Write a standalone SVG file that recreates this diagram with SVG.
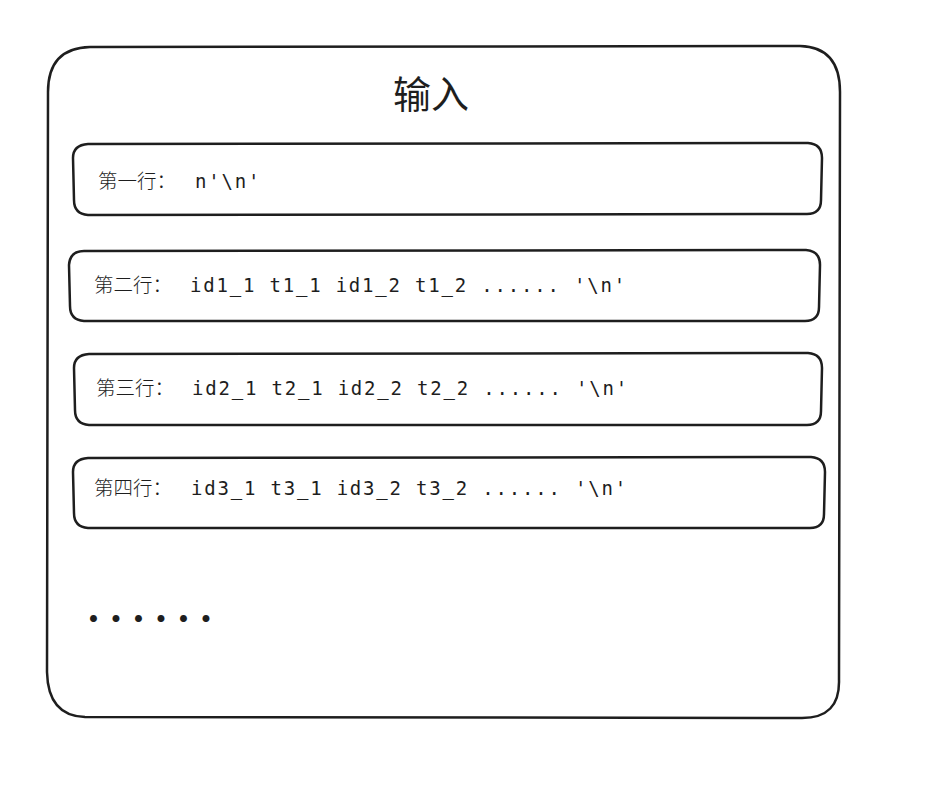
<svg xmlns="http://www.w3.org/2000/svg" width="943" height="789" viewBox="0 0 943 789">
<style>
.box{fill:none;stroke:#1e1e1e;stroke-width:2.5;stroke-linecap:round;stroke-linejoin:round}
.cjk{font-family:"Noto Sans CJK SC",sans-serif;font-size:19.5px;font-weight:300;fill:#1e1e1e}
.mono{font-family:"DejaVu Sans Mono","Liberation Mono",monospace;font-size:19px;letter-spacing:1.8px;fill:#1e1e1e}
.title{font-family:"Noto Sans CJK SC",sans-serif;font-size:38px;font-weight:400;fill:#1e1e1e}
.dots{font-family:Lato,sans-serif;font-size:46px;font-weight:bold;letter-spacing:11.6px;fill:#1e1e1e}
</style>
<rect width="943" height="789" fill="#ffffff"/>
<g id="outer">
<path class="box" d="M 90 47 L 800 46 Q 840 47 840 92 L 839 680 Q 840 718 802 718 L 85 717 Q 48 716 47 672 L 48 92 Q 48 48 90 47 Z"/>
<text class="title" x="431" y="108" text-anchor="middle">输入</text>
</g>
<g id="row1">
<path class="box" d="M 88 144 L 808 143 Q 822 144 822 158 L 821 200 Q 821 214 807 214 L 88 215 Q 74 214 74 200 L 73 158 Q 73 145 88 144 Z"/>
<text x="98" y="188"><tspan class="cjk">第一行：</tspan><tspan class="mono" x="195">n'\n'</tspan></text>
</g>
<g id="row2">
<path class="box" d="M 84 251 L 806 250 Q 820 251 820 265 L 819 307 Q 819 321 805 321 L 84 321 Q 70 320 70 306 L 69 265 Q 70 251 84 251 Z"/>
<text x="94" y="292"><tspan class="cjk">第二行：</tspan><tspan class="mono" x="190">id1_1 t1_1 id1_2 t1_2 ...... '\n'</tspan></text>
</g>
<g id="row3">
<path class="box" d="M 89 354 L 808 353 Q 822 354 822 368 L 821 411 Q 821 425 807 425 L 89 425 Q 75 424 75 410 L 74 368 Q 74 355 89 354 Z"/>
<text x="96" y="395"><tspan class="cjk">第三行：</tspan><tspan class="mono" x="192">id2_1 t2_1 id2_2 t2_2 ...... '\n'</tspan></text>
</g>
<g id="row4">
<path class="box" d="M 88 458 L 811 457 Q 825 458 825 472 L 824 514 Q 824 528 810 528 L 88 528 Q 74 527 74 513 L 73 472 Q 73 459 88 458 Z"/>
<text x="94" y="495"><tspan class="cjk">第四行：</tspan><tspan class="mono" x="191">id3_1 t3_1 id3_2 t3_2 ...... '\n'</tspan></text>
</g>
<g id="more">
<text class="dots" x="88" y="622">......</text>
</g>
<g id="connectors"></g>
</svg>
